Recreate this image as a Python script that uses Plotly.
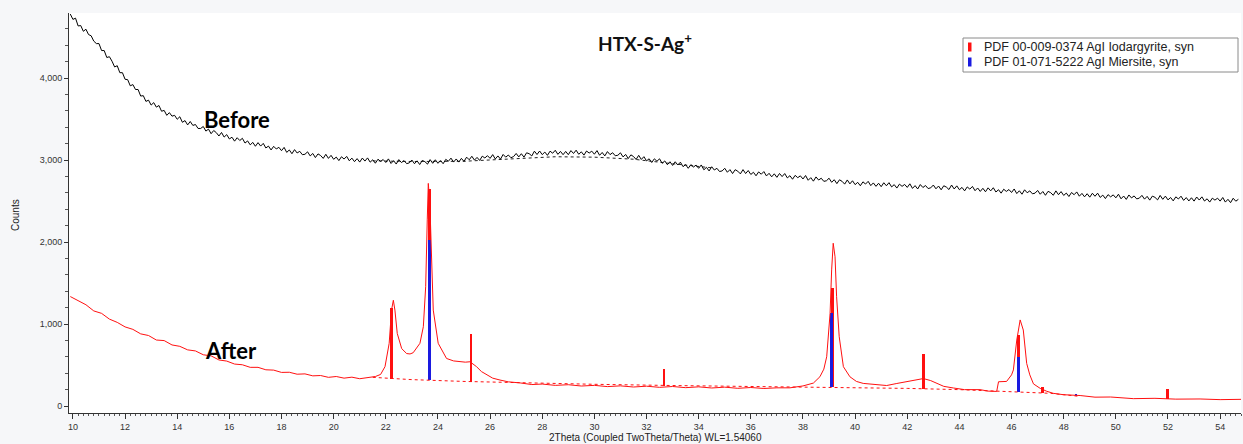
import numpy as np
import plotly.graph_objects as go

# ---------------- data ----------------
# "Before" scan (black), read every 0.1 deg starting at 9.9 deg
before_start, before_step = 9.9, 0.1
before_counts = [
    4780, 4715, 4730, 4635, 4640, 4570, 4595, 4530, 4515, 4450,
    4420, 4420, 4335, 4335, 4250, 4260, 4205, 4135, 4150, 4065,
    4065, 3985, 3980, 3905, 3920, 3860, 3860, 3780, 3785, 3715,
    3730, 3670, 3700, 3645, 3665, 3595, 3605, 3545, 3578, 3535,
    3545, 3497, 3528, 3460, 3481, 3428, 3470, 3422, 3433, 3385,
    3385, 3409, 3353, 3377, 3321, 3360, 3334, 3293, 3336, 3280,
    3310, 3257, 3278, 3230, 3272, 3238, 3265, 3207, 3233, 3185,
    3215, 3168, 3212, 3170, 3203, 3147, 3170, 3123, 3167, 3135,
    3155, 3114, 3154, 3093, 3123, 3077, 3127, 3086, 3106, 3065,
    3070, 3100, 3050, 3080, 3030, 3075, 3055, 3020, 3070, 3020,
    3057, 3009, 3036, 2993, 3040, 3012, 3044, 2991, 3023, 2980,
    3017, 2975, 3024, 2987, 3026, 2974, 3003, 2961, 3010, 2983,
    3006, 2970, 3014, 2958, 2992, 2951, 3005, 2969, 2993, 2956,
    2965, 3000, 2955, 2990, 2945, 2995, 2980, 2950, 3005, 2960,
    3003, 2960, 2993, 2955, 3008, 2985, 3023, 2975, 3013, 2975,
    3020, 2983, 3035, 3003, 3046, 2999, 3032, 2995, 3047, 3025,
    3053, 3020, 3066, 3013, 3050, 3011, 3068, 3035, 3061, 3028,
    3042, 3080, 3038, 3077, 3035, 3088, 3077, 3050, 3108, 3067,
    3110, 3066, 3097, 3057, 3108, 3083, 3119, 3069, 3105, 3065,
    3105, 3065, 3115, 3080, 3120, 3070, 3100, 3060, 3110, 3085,
    3108, 3071, 3115, 3058, 3092, 3050, 3103, 3066, 3089, 3052,
    3058, 3088, 3038, 3068, 3018, 3063, 3043, 3007, 3057, 3007,
    3041, 2990, 3015, 2970, 3015, 2985, 3015, 2960, 2989, 2943,
    2979, 2934, 2979, 2939, 2974, 2919, 2944, 2899, 2944, 2915,
    2938, 2899, 2940, 2881, 2911, 2867, 2918, 2878, 2899, 2860,
    2867, 2899, 2851, 2883, 2835, 2882, 2864, 2831, 2883, 2835,
    2872, 2824, 2851, 2808, 2855, 2827, 2859, 2806, 2838, 2795,
    2832, 2789, 2836, 2798, 2835, 2782, 2809, 2766, 2813, 2785,
    2807, 2769, 2811, 2753, 2785, 2742, 2794, 2756, 2778, 2740,
    2747, 2778, 2729, 2760, 2712, 2759, 2740, 2706, 2757, 2709,
    2747, 2700, 2728, 2686, 2734, 2707, 2740, 2688, 2721, 2679,
    2717, 2675, 2723, 2686, 2724, 2672, 2700, 2658, 2706, 2679,
    2702, 2666, 2710, 2654, 2688, 2647, 2701, 2665, 2689, 2652,
    2661, 2695, 2649, 2683, 2637, 2686, 2670, 2640, 2695, 2647,
    2685, 2638, 2666, 2624, 2672, 2645, 2678, 2626, 2659, 2617,
    2655, 2613, 2661, 2624, 2662, 2610, 2638, 2596, 2644, 2617,
    2640, 2604, 2647, 2591, 2625, 2583, 2637, 2601, 2624, 2588,
    2596, 2629, 2583, 2616, 2570, 2618, 2602, 2570, 2624, 2577,
    2615, 2568, 2597, 2555, 2604, 2577, 2611, 2559, 2593, 2551,
    2589, 2547, 2595, 2558, 2596, 2544, 2572, 2530, 2578, 2551,
    2575, 2539, 2583, 2527, 2561, 2520, 2574, 2538, 2562, 2526,
    2535, 2569, 2523, 2557, 2511, 2560, 2545, 2514, 2568, 2521,
    2560, 2514, 2543, 2502, 2551, 2525, 2559, 2508, 2542, 2501,
    2540, 2499, 2549, 2512, 2551, 2500, 2527, 2487, 2535, 2511,
    2535, 2499, 2543, 2487, 2521, 2480, 2534, 2498, 2521,
]

# "After" scan (red)
after_theta = [
    9.9, 10.2, 10.5, 10.8, 11.1, 11.4, 11.7, 12.0, 12.3, 12.6, 12.9, 13.2, 13.5,
    13.8, 14.1, 14.4, 14.7, 15.0, 15.3, 15.6, 15.9, 16.2, 16.5, 16.8, 17.1, 17.4,
    17.7, 18.0, 18.3, 18.6, 18.9, 19.2, 19.5, 19.8, 20.1, 20.4, 20.7, 21.0, 21.3,
    21.6, 21.8, 21.97, 22.13, 22.22, 22.29, 22.35, 22.44, 22.61, 22.8, 22.93,
    23.05, 23.31, 23.44, 23.53, 23.59, 23.63, 23.69, 23.76, 23.82, 24.01, 24.33,
    24.6, 24.84, 25.05, 25.23, 25.35, 25.48, 25.67, 25.87, 26.1, 26.38, 26.7,
    27.15, 27.6, 28.0, 28.5, 29.0, 29.5, 30.0, 30.5, 31.0, 31.5, 32.0, 32.5, 33.0,
    33.5, 34.0, 34.5, 35.0, 35.5, 36.0, 36.5, 37.0, 37.5, 38.0, 38.4, 38.65, 38.8,
    38.91, 39.04, 39.1, 39.16, 39.23, 39.29, 39.39, 39.55, 39.8, 40.05, 40.31,
    40.7, 41.21, 41.6, 41.98, 42.3, 42.62, 42.9, 43.13, 43.4, 43.77, 44.2, 44.79,
    45.1, 45.43, 45.5, 45.81, 46.0, 46.07, 46.2, 46.33, 46.45, 46.58, 46.7, 46.84,
    47.1, 47.35, 47.6, 47.99, 48.63, 49.2, 49.8, 50.67, 51.5, 52.3, 53.23, 54.0,
    54.88,
]
after_counts = [
    1335, 1280, 1235, 1160, 1130, 1060, 1020, 965, 935, 880, 860, 805, 798,
    745, 728, 685, 672, 625, 612, 562, 548, 512, 503, 472, 472, 442,
    438, 410, 412, 388, 392, 368, 372, 350, 360, 340, 352, 333, 350,
    360, 385, 480, 765, 1170, 1290, 1170, 885, 700, 640, 635,
    650, 765, 967, 1455, 2270, 2715, 2470, 1660, 1170, 765, 580,
    550, 540, 535, 540, 510, 480, 420, 378, 340, 317, 295,
    282, 262, 268, 252, 260, 244, 252, 237, 246, 232, 242, 228, 238,
    224, 234, 220, 230, 216, 226, 214, 222, 222, 245, 280, 357, 450,
    601, 1130, 1660, 1985, 1820, 1333, 845, 480, 357, 300, 276,
    268, 250, 275, 296, 320, 335, 310, 276, 240, 220, 200, 200,
    182, 178, 296, 300, 380, 440, 805, 1050, 927, 520, 380, 270,
    215, 180, 155, 138, 128, 108, 110, 90, 94, 84, 86, 78,
    82,
]

# dashed backgrounds
before_bg_theta = [21.5, 23.0, 25.0, 27.0, 28.5, 30.0, 31.5, 33.0, 34.5]
before_bg_counts = [2990, 2982, 2985, 3020, 3040, 3035, 3010, 2955, 2905]
after_bg_theta = [21.5, 23.0, 25.0, 27.0, 30.0, 33.0, 36.0, 38.0, 40.0, 42.0, 44.0, 45.5, 46.5, 47.5, 48.6]
after_bg_counts = [350, 322, 300, 283, 265, 250, 240, 236, 228, 215, 200, 180, 172, 155, 118]

# reference pattern sticks
iod_theta = [22.22, 23.68, 25.27, 32.67, 39.12, 42.62, 46.26, 47.2, 51.99]
iod_top = [1190, 2650, 875, 450, 1435, 640, 865, 228, 203]
iod_base = [335, 315, 298, 250, 232, 212, 173, 162, 82]
mie_theta = [23.66, 39.1, 46.26, 48.47]
mie_top = [2030, 1130, 600, 150]
mie_base = [315, 232, 173, 120]

x_ticks = list(range(10, 55, 2))
y_ticks = [0, 1000, 2000, 3000, 4000]

# ---------------- figure ----------------
W, H = 1243, 444
L, R, T, B = 69, 2, 13, 31
PW, PH = W - L - R, H - T - B


def pxx(p):
    return (p - L) / PW


def pxy(p):
    return (H - B - p) / PH


RED = "#ff1010"
BLUE = "#1a1ae0"

before_theta = before_start + before_step * np.arange(len(before_counts))

fig = go.Figure()
fig.add_trace(go.Scatter(x=before_bg_theta, y=before_bg_counts, mode="lines",
                         line=dict(color="#222", width=1, dash="dot"), hoverinfo="skip"))
fig.add_trace(go.Scatter(x=before_theta, y=before_counts, mode="lines",
                         line=dict(color="#000", width=1)))
fig.add_trace(go.Scatter(x=after_bg_theta, y=after_bg_counts, mode="lines",
                         line=dict(color=RED, width=1, dash="dot"), hoverinfo="skip"))
fig.add_trace(go.Scatter(x=after_theta, y=after_counts, mode="lines",
                         line=dict(color=RED, width=1)))
fig.add_trace(go.Bar(x=iod_theta, y=np.array(iod_top) - np.array(iod_base), base=iod_base,
                     width=0.11, marker=dict(color=RED, line=dict(width=0))))
fig.add_trace(go.Bar(x=mie_theta, y=np.array(mie_top) - np.array(mie_base), base=mie_base,
                     width=0.11, marker=dict(color=BLUE, line=dict(width=0))))

axis_font = dict(family="Liberation Sans, Arial", size=9, color="#333")
fig.update_layout(
    width=W, height=H,
    margin=dict(l=L, r=R, t=T, b=B),
    paper_bgcolor="#f6f7f9", plot_bgcolor="#ffffff",
    showlegend=False, barmode="overlay", bargap=0,
    xaxis=dict(range=[9.85, 54.8], tickvals=x_ticks, ticks="outside", ticklen=5,
               tickcolor="#333", showline=True, linecolor="#333", linewidth=1,
               showgrid=False, zeroline=False, tickfont=axis_font,
               minor=dict(dtick=0.2, tick0=10, ticks="outside", ticklen=2, tickcolor="#555")),
    yaxis=dict(range=[-85, 4793], tickvals=y_ticks, tickformat=",d", ticks="outside",
               ticklen=4, tickcolor="#333", showline=True, linecolor="#333", linewidth=1,
               showgrid=False, zeroline=False, tickfont=axis_font,
               minor=dict(dtick=200, ticks="outside", ticklen=3, tickcolor="#555")),
)

ann = []
ann.append(dict(xref="paper", yref="paper", x=pxx(655), y=pxy(437), text="2Theta (Coupled TwoTheta/Theta) WL=1.54060",
                showarrow=False, font=dict(family="Liberation Sans, Arial", size=10, color="#222"),
                xanchor="center", yanchor="middle"))
ann.append(dict(xref="paper", yref="paper", x=pxx(15), y=pxy(215), text="Counts", textangle=-90,
                showarrow=False, font=dict(family="Liberation Sans, Arial", size=10, color="#222"),
                xanchor="center", yanchor="middle"))
ann.append(dict(xref="paper", yref="paper", x=pxx(645), y=pxy(42), text="<b>HTX-S-Ag<sup>+</sup></b>",
                showarrow=False, font=dict(family="Lato", size=19, color="#111"),
                xanchor="center", yanchor="middle"))
ann.append(dict(xref="paper", yref="paper", x=pxx(202), y=pxy(120), text="<b>Before</b>",
                showarrow=False, font=dict(family="Lato", size=22, color="#000"),
                xanchor="left", yanchor="middle"))
ann.append(dict(xref="paper", yref="paper", x=pxx(203), y=pxy(350), text="<b>After</b>",
                showarrow=False, font=dict(family="Lato", size=22, color="#000"),
                xanchor="left", yanchor="middle"))
legend_items = [("PDF 00-009-0374 AgI Iodargyrite, syn", RED, 47),
                ("PDF 01-071-5222 AgI Miersite, syn", BLUE, 62)]
shapes = [dict(type="rect", xref="paper", yref="paper", x0=pxx(963), x1=pxx(1238),
               y0=pxy(72), y1=pxy(38), fillcolor="#ffffff", line=dict(color="#8a8a8a", width=1), layer="above")]
for text, col, yc in legend_items:
    shapes.append(dict(type="rect", xref="paper", yref="paper", x0=pxx(968), x1=pxx(971.5),
                       y0=pxy(yc + 4.5), y1=pxy(yc - 4.5), fillcolor=col, line=dict(width=0), layer="above"))
    ann.append(dict(xref="paper", yref="paper", x=pxx(982), y=pxy(yc), text=text, showarrow=False,
                    font=dict(family="Liberation Sans, Arial", size=12.5, color="#222"),
                    xanchor="left", yanchor="middle"))
fig.update_layout(annotations=ann, shapes=shapes)

fig.write_html("out.html", config={"displayModeBar": False},
               post_script="document.body.style.margin='0';document.body.style.overflow='hidden';")
